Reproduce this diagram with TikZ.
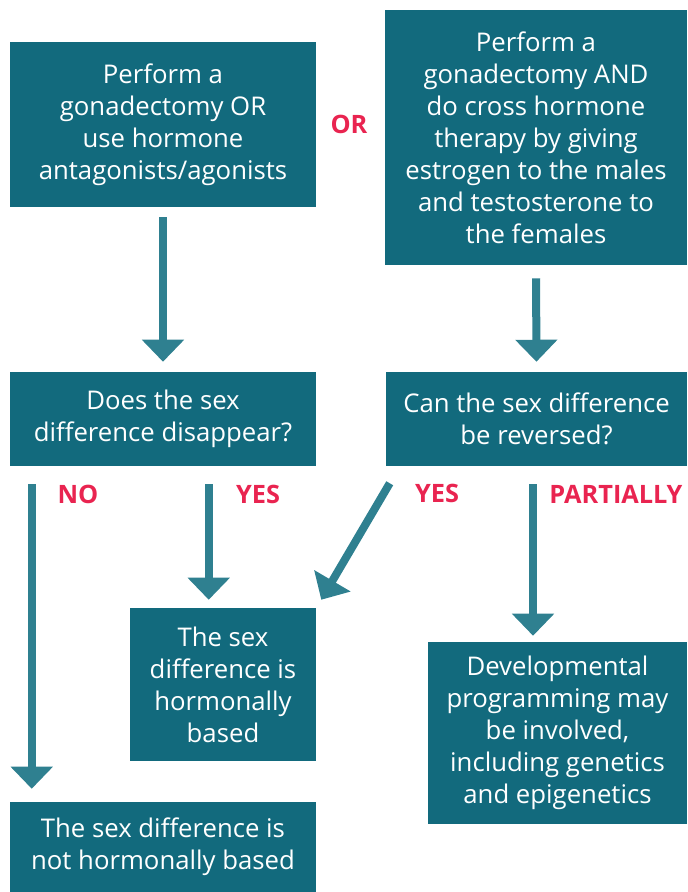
\documentclass[tikz,border=0pt]{standalone}
\usepackage{fontspec}
\setmainfont{Open Sans}
\usetikzlibrary{positioning, arrows.meta, calc}

\definecolor{boxteal}{RGB}{18,106,125}
\definecolor{arrowteal}{RGB}{47,128,144}
\definecolor{answerred}{RGB}{233,36,80}

\tikzset{
  box/.style 2 args={fill=boxteal, text=white, align=center, inner sep=0pt,
    minimum width=#1*0.75pt, minimum height=#2*0.75pt,
    font=\fontsize{19.3}{24}\selectfont},
  answer/.style={text=answerred, inner sep=0pt, font=\fontsize{19}{20}\bfseries\selectfont},
  flow/.style={arrowteal, line width=6pt, -{Triangle[width=30.75pt,length=16.5pt]}}
}

\begin{document}
\begin{tikzpicture}[x=0.75pt, y=-0.75pt]
    \useasboundingbox (0,0) rectangle (687,892);

    % Etapes de depart
    \node[box={306}{165}] (perf) at (163,124.5) {Perform a\\gonadectomy OR\\use hormone\\antagonists/agonists};
    \node[box={302}{255}] (cross) at (536,137.5) {Perform a\\gonadectomy AND\\do cross hormone\\therapy by giving\\estrogen to the males\\and testosterone to\\the females};
    \node[answer] (or) at (349,124) {OR};

    % Questions
    \node[box={306}{94}] (dis) at (163,419) {Does the sex\\difference disappear?};
    \node[box={301}{94}] (rev) at (536.5,419) {Can the sex difference\\be reversed?};

    % Conclusions
    \node[box={186}{153}] (based) at (223,684.5) {The sex\\difference is\\hormonally\\based};
    \node[box={259}{182}] (prog) at (557.5,733) {Developmental\\programming may\\be involved,\\including genetics\\and epigenetics};
    \node[box={306}{90}] (notbased) at (163,847) {The sex difference is\\not hormonally based};

    % Reponses
    \node[answer] (no) at (78,494) {NO};
    \node[answer] (yesa) at (258,494) {YES};
    \node[answer] (yesb) at (437,493) {YES};
    \node[answer] (part) at (616,494) {PARTIALLY};

    % Fleches
    \draw[flow, shorten <=7.5pt, shorten >=7.5pt] (perf.south) -- (dis.north);
    \draw[flow, shorten <=9.75pt, shorten >=7.5pt] (cross.south) -- (rev.north);
    \draw[flow, shorten <=13.5pt, shorten >=9.75pt] ([xshift=16.5pt]dis.south west) -- ([xshift=16.5pt]notbased.north west);
    \draw[flow, shorten <=13.5pt, shorten >=6pt] ([xshift=149.25pt]dis.south west) -- ([xshift=149.25pt]dis.south west |- based.north);
    \draw[flow] ($(rev.south west)+(4,17)$) -- ($(based.north east)+(5,-8)$);
    \draw[flow, shorten <=13.5pt, shorten >=4.5pt] ([xshift=-2.6pt]rev.south) -- ([xshift=-2.6pt]rev.south |- prog.north);
\end{tikzpicture}
\end{document}
